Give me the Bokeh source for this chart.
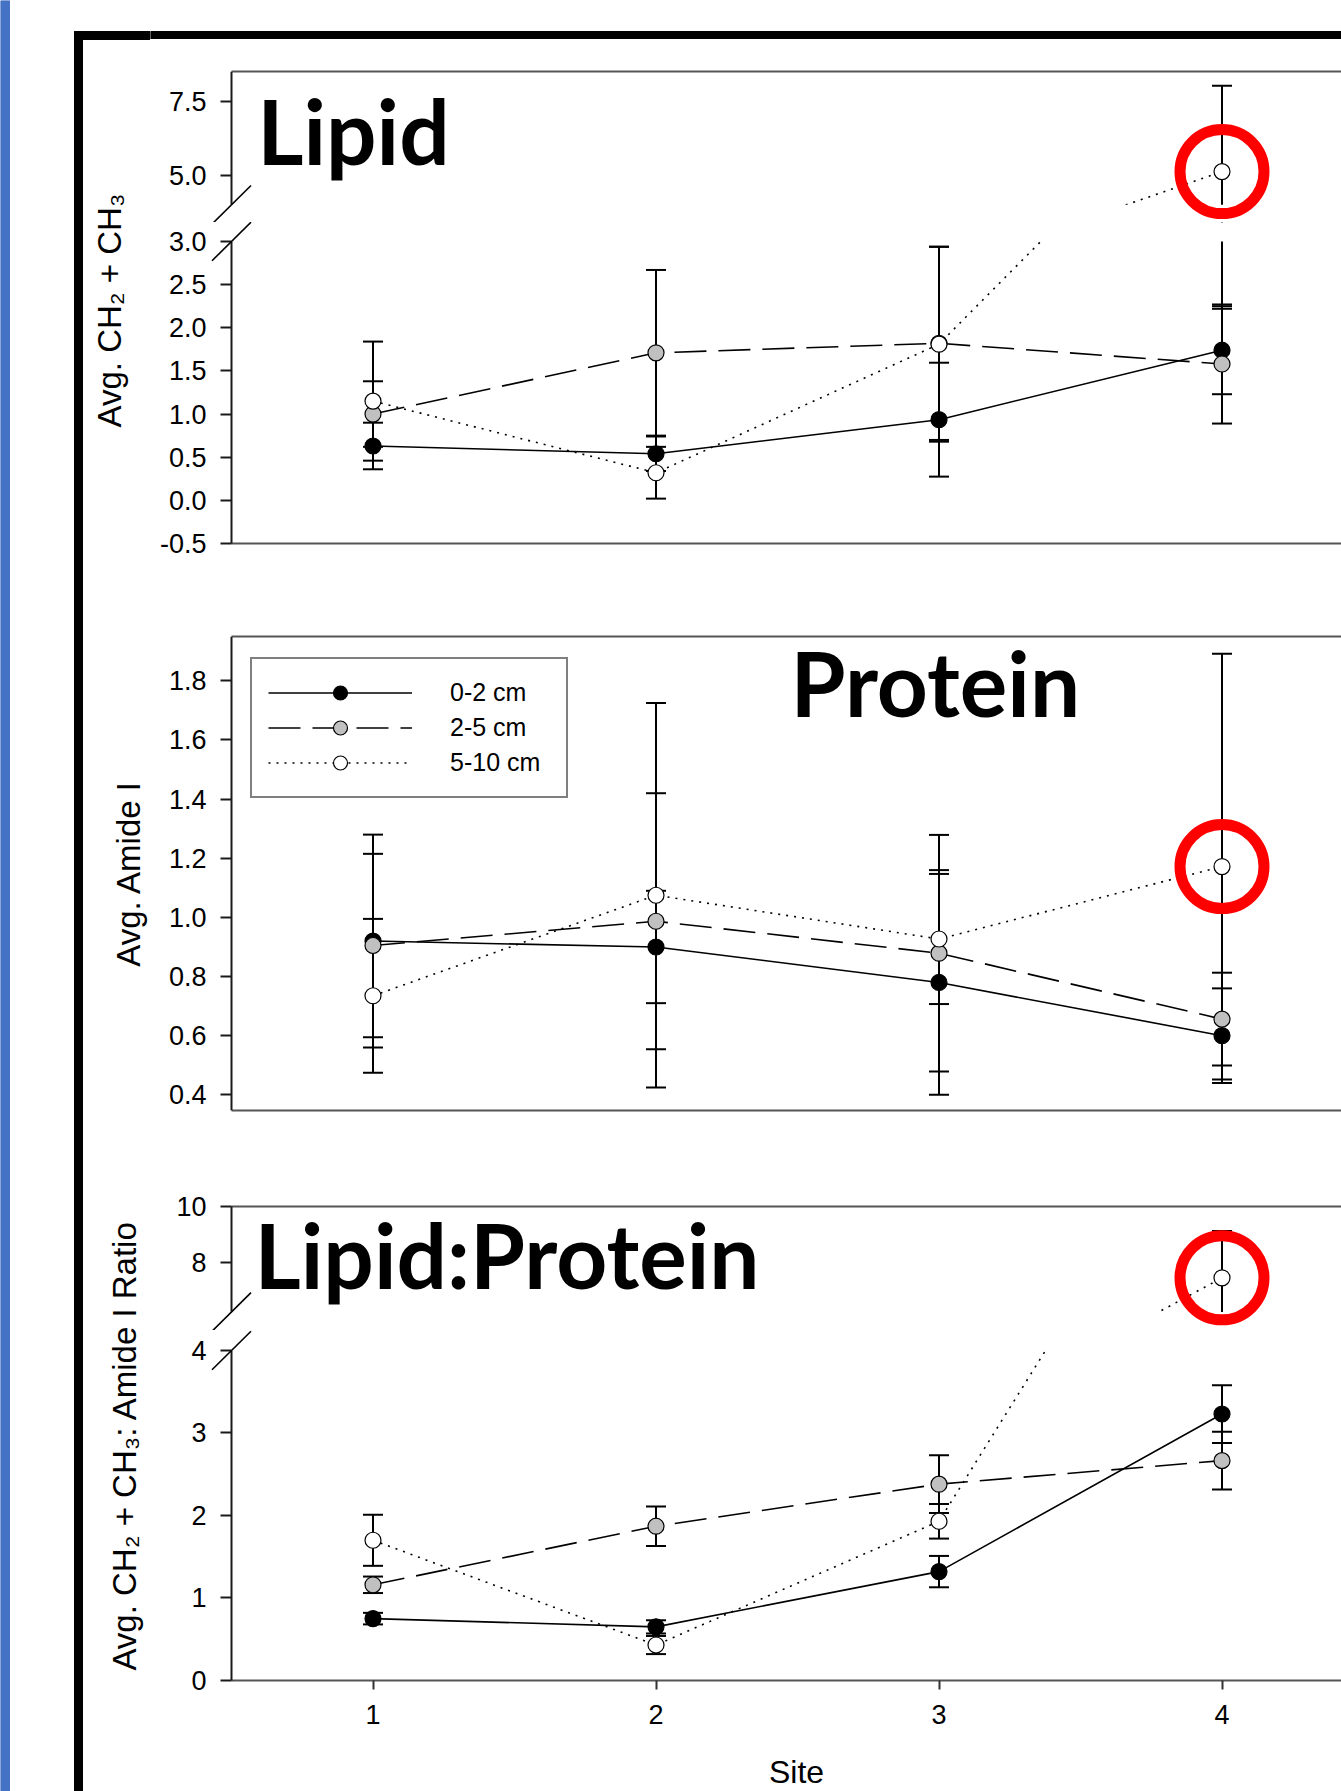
import math
from bokeh.plotting import figure
from bokeh.layouts import row, column
from bokeh.models import (Range1d, LinearAxis, FixedTicker, NumeralTickFormatter,
                          BoxAnnotation, Label, Legend, LegendItem)
from bokeh.embed import file_html
from bokeh.resources import INLINE

# ---------------- data ----------------
sites = [1, 2, 3, 4]
site_tick_labels = ["1", "2", "3", "4"]
depths = ["0-2 cm", "2-5 cm", "5-10 cm"]

lipid_0_2 = [0.63, 0.54, 0.935, 1.74]
lipid_0_2_err = [0.27, 0.20, 0.66, 0.51]
lipid_2_5 = [1.00, 1.71, 1.82, 1.58]
lipid_2_5_err = [0.38, 0.96, 1.12, 0.69]
lipid_5_10 = [1.15, 0.32, 1.81, 5.12]
lipid_5_10_err = [0.69, 0.30, 1.13, 2.90]

protein_0_2 = [0.92, 0.90, 0.78, 0.60]
protein_0_2_err = [0.36, 0.19, 0.38, 0.16]
protein_2_5 = [0.905, 0.987, 0.879, 0.656]
protein_2_5_err = [0.31, 0.433, 0.40, 0.157]
protein_5_10 = [0.735, 1.075, 0.927, 1.172]
protein_5_10_err = [0.26, 0.65, 0.22, 0.72]

ratio_0_2 = [0.75, 0.65, 1.32, 3.23]
ratio_0_2_err = [0.07, 0.08, 0.19, 0.35]
ratio_2_5 = [1.16, 1.87, 2.38, 2.665]
ratio_2_5_err = [0.10, 0.24, 0.35, 0.35]
ratio_5_10 = [1.70, 0.43, 1.93, 7.43]
ratio_5_10_err = [0.31, 0.11, 0.21, 1.69]

lipid_ticks_low = [-0.5, 0.0, 0.5, 1.0, 1.5, 2.0, 2.5, 3.0]
lipid_ticks_high = [5.0, 7.5]
protein_ticks = [0.4, 0.6, 0.8, 1.0, 1.2, 1.4, 1.6, 1.8]
ratio_ticks_low = [0, 1, 2, 3, 4]
ratio_ticks_high = [8, 10]

panel_titles = ["Lipid", "Protein", "Lipid:Protein"]
y_titles = ["Avg. CH\u2082 + CH\u2083", "Avg. Amide I", "Avg. CH\u2082 + CH\u2083: Amide I Ratio"]
x_title = "Site"

# ---------------- style / layout ----------------
FONT = "Liberation Sans"
TITLE_FONT = "Lato"
dashes = ["solid", "32 12", "2 6"]
fills = ["black", "#c0c0c0", "white"]

PAGE_W, PAGE_H = 1341, 1791
STRIP_W = 150
COL_W = PAGE_W - STRIP_W
X_PX = 283.0                   # px per site
X_AXIS_AT = 0.5                # where the y axes sit (81 px right of the frame edge)
x_start = X_AXIS_AT - 81 / X_PX
xr = Range1d(x_start, x_start + COL_W / X_PX)


def make_fig(h, yr, top, bottom):
    p = figure(width=COL_W, height=h, x_range=xr, y_range=yr,
               output_backend="svg", toolbar_location=None,
               x_axis_location=None, y_axis_location=None,
               min_border_left=0, min_border_right=0,
               min_border_top=top, min_border_bottom=bottom,
               outline_line_color=None, background_fill_color="white",
               border_fill_color="white")
    p.xgrid.visible = False
    p.ygrid.visible = False
    return p


def add_yaxis(p, ticks, fmt, bounds):
    ax = LinearAxis(ticker=FixedTicker(ticks=ticks, minor_ticks=[]),
                    formatter=NumeralTickFormatter(format=fmt), bounds=bounds,
                    fixed_location=X_AXIS_AT,
                    axis_line_color="#1a1a1a", axis_line_width=2,
                    major_tick_line_color="#1a1a1a", major_tick_line_width=2,
                    major_tick_out=11, major_tick_in=0, minor_tick_line_color=None,
                    major_label_text_font=FONT, major_label_text_font_size="27px",
                    major_label_text_color="black", major_label_standoff=14)
    p.add_layout(ax, "left")


def add_line_axis(p, side, at=None):
    ax = LinearAxis(ticker=FixedTicker(ticks=[], minor_ticks=[]),
                    bounds=(X_AXIS_AT, xr.end), fixed_location=at,
                    axis_line_color="#555555", axis_line_width=2,
                    major_tick_line_color=None, minor_tick_line_color=None,
                    major_tick_out=0, major_tick_in=0,
                    major_label_text_font_size="0px")
    p.add_layout(ax, side)


def draw_panel(p, series, ring=False):
    lines = []
    for k, (means, errs) in enumerate(series):
        lo = [m - e for m, e in zip(means, errs)]
        hi = [m + e for m, e in zip(means, errs)]
        p.segment(x0=sites, y0=lo, x1=sites, y1=hi, line_color="black", line_width=2)
        p.scatter(x=sites + sites, y=lo + hi, marker="dash", size=20,
                  line_color="black", line_width=2)
        lines.append(p.line(sites, means, line_color="black", line_width=1.6,
                            line_dash=dashes[k]))
    marks = []
    for k, (means, errs) in enumerate(series):
        marks.append(p.scatter(sites, means, marker="circle", size=16,
                               fill_color=fills[k], line_color="black", line_width=1.2))
    if ring:
        white = series[2][0]
        p.scatter(x=[sites[3]], y=[white[3]], marker="circle", size=84,
                  fill_color=None, line_color="#ff0000", line_width=11, level="overlay")
    return lines, marks


def px_per_unit(yr, frame_h):
    return frame_h / (yr.end - yr.start)


def add_break(p, y_center, ppu):
    dx = 19.5 / X_PX
    dy = 19.3 / ppu
    p.segment(x0=[X_AXIS_AT - dx], y0=[y_center - dy], x1=[X_AXIS_AT + dx],
              y1=[y_center + dy], line_color="black", line_width=1.6, level="overlay")


def add_mask(p, bottom, top):
    p.add_layout(BoxAnnotation(left=X_AXIS_AT, right=xr.end, bottom=bottom, top=top,
                               fill_color="white", fill_alpha=1.0, line_color=None))


def add_title(p, text, x, y):
    p.add_layout(Label(x=x, y=y, text=text, text_font=TITLE_FONT, text_font_size="89px",
                       text_font_style="bold", text_color="black",
                       text_align="left", text_baseline="middle"))


lipid = [(lipid_0_2, lipid_0_2_err), (lipid_2_5, lipid_2_5_err), (lipid_5_10, lipid_5_10_err)]
protein = [(protein_0_2, protein_0_2_err), (protein_2_5, protein_2_5_err),
           (protein_5_10, protein_5_10_err)]
ratio = [(ratio_0_2, ratio_0_2_err), (ratio_2_5, ratio_2_5_err), (ratio_5_10, ratio_5_10_err)]

# ---------- Panel 1 : Lipid (broken axis) ----------
p1u_yr = Range1d(3.402, 8.5)
p1u = make_fig(183, p1u_yr, 32, 0)
add_line_axis(p1u, "above")
add_yaxis(p1u, lipid_ticks_high, "0.0", (4.0, 8.5))
draw_panel(p1u, lipid, ring=True)
add_mask(p1u, p1u_yr.start, 4.0)
add_break(p1u, 4.0, px_per_unit(p1u_yr, 151))
add_title(p1u, panel_titles[0], 0.5 + 25.7 / X_PX, 6.495)

p1l_yr = Range1d(-0.9636, 3.22)
p1l = make_fig(361, p1l_yr, 0, 0)
add_line_axis(p1l, "below", at=lipid_ticks_low[0])
add_yaxis(p1l, lipid_ticks_low, "0.0", (-0.5, 3.0))
draw_panel(p1l, lipid)
add_mask(p1l, 3.0, p1l_yr.end)
add_break(p1l, 3.0, px_per_unit(p1l_yr, 361))

# ---------- Panel 2 : Protein ----------
p2_yr = Range1d(0.347, 1.95)
p2 = make_fig(575, p2_yr, 53, 48)
add_line_axis(p2, "above")
add_line_axis(p2, "below")
add_yaxis(p2, protein_ticks, "0.0", (0.347, 1.95))
lines2, marks2 = draw_panel(p2, protein, ring=True)
add_title(p2, panel_titles[1], 0.5 + 559 / X_PX, 1.793)
legend = Legend(items=[LegendItem(label=depths[k], renderers=[lines2[k], marks2[k]])
                       for k in range(3)],
                location=(100, 312), padding=16, spacing=0,
                glyph_width=144, glyph_height=35, label_standoff=38, label_width=100,
                label_text_font=FONT, label_text_font_size="25px", label_text_color="black",
                border_line_color="black", border_line_width=2,
                background_fill_color="white", background_fill_alpha=1.0)
p2.add_layout(legend)

# ---------- Panel 3 : Lipid:Protein (broken axis) ----------
p3u_yr = Range1d(5.532, 11.73)
p3u = make_fig(172, p3u_yr, 0, 0)
add_line_axis(p3u, "above", at=ratio_ticks_high[-1])
add_yaxis(p3u, ratio_ticks_high, "0", (6.2, 10))
draw_panel(p3u, ratio, ring=True)
add_mask(p3u, p3u_yr.start, 6.2)
add_break(p3u, 6.2, px_per_unit(p3u_yr, 172))
add_title(p3u, panel_titles[2], 0.5 + 23 / X_PX, 8.256)

p3l_yr = Range1d(-1.3455, 4.2424)
p3l = make_fig(461, p3l_yr, 0, 0)
add_yaxis(p3l, ratio_ticks_low, "0", (0, 4))
xa = LinearAxis(ticker=FixedTicker(ticks=sites, minor_ticks=[]),
                major_label_overrides={s: l for s, l in zip(sites, site_tick_labels)},
                bounds=(X_AXIS_AT, xr.end), fixed_location=ratio_ticks_low[0],
                axis_line_color="#555555", axis_line_width=2,
                major_tick_line_color="#333333", major_tick_line_width=2,
                major_tick_out=9, major_tick_in=0, minor_tick_line_color=None,
                major_label_text_font=FONT, major_label_text_font_size="27px",
                major_label_text_color="black", major_label_standoff=16)
p3l.add_layout(xa, "below")
p3l.add_layout(Label(x=0.5 + 565 / X_PX, y=-92 / 82.5, text=x_title, text_font=FONT,
                     text_font_size="32px", text_color="black",
                     text_align="center", text_baseline="middle"))
draw_panel(p3l, ratio)
add_mask(p3l, 4.0, p3l_yr.end)
add_break(p3l, 4.0, px_per_unit(p3l_yr, 461))

# ---------- left strip with frame and y titles ----------
strip = figure(width=STRIP_W, height=PAGE_H, x_range=Range1d(0, STRIP_W),
               y_range=Range1d(PAGE_H, 0), output_backend="svg", toolbar_location=None,
               x_axis_location=None, y_axis_location=None, min_border=0,
               outline_line_color=None)
strip.xgrid.visible = False
strip.ygrid.visible = False
strip.quad(left=0, right=9, top=0, bottom=PAGE_H, color="#4472C4")
strip.quad(left=74, right=82, top=31, bottom=PAGE_H, color="black")
strip.quad(left=74, right=STRIP_W, top=31, bottom=39, color="black")
for txt, xx, yy in zip(y_titles, [109.0, 128.0, 124.0], [310, 873, 1445]):
    strip.add_layout(Label(x=xx, y=yy, text=txt, angle=math.pi / 2,
                           text_font=FONT, text_font_size="33px", text_color="black",
                           text_align="center", text_baseline="middle"))

header = figure(width=COL_W, height=39, x_range=Range1d(0, COL_W), y_range=Range1d(39, 0),
                output_backend="svg", toolbar_location=None,
                x_axis_location=None, y_axis_location=None, min_border=0,
                outline_line_color=None)
header.xgrid.visible = False
header.ygrid.visible = False
header.quad(left=0, right=COL_W, top=31, bottom=39, color="black")

layout = row(strip, column(header, p1u, p1l, p2, p3u, p3l, spacing=0), spacing=0)

open("out.html", "w").write(file_html(layout, INLINE))
